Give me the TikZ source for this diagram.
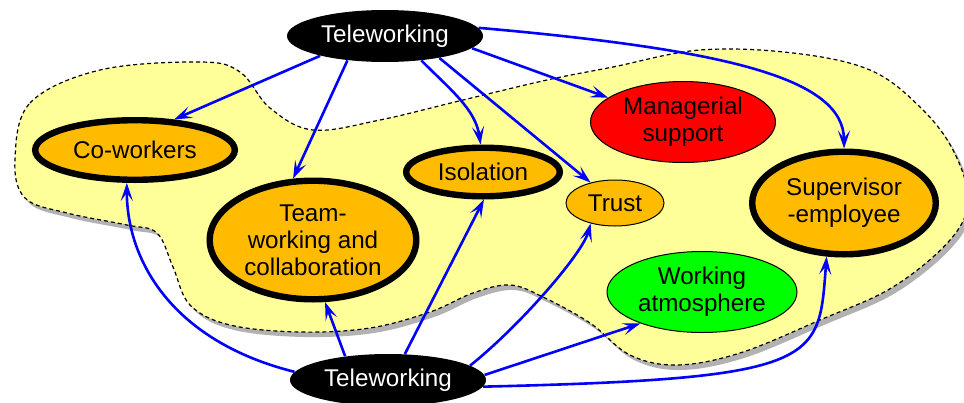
\documentclass[tikz,border=0pt]{standalone}
\usepackage{fontspec}
\setmainfont{Liberation Sans}
\usetikzlibrary{arrows.meta, shapes.geometric, shadows}
\definecolor{blobYellow}{HTML}{FFFF99}
\definecolor{nodeOrange}{HTML}{FFBB00}
\definecolor{nodeRed}{HTML}{FF0000}
\definecolor{nodeGreen}{HTML}{00FF00}
\definecolor{linkBlue}{HTML}{0000FF}
\tikzset{
  arrowB/.style={-{Stealth[length=9pt, width=6pt, inset=4pt]}, linkBlue, line width=1.3pt},
  ellBase/.style={ellipse, inner sep=0pt, align=center,
                  font=\fontsize{12.1}{13.6}\selectfont},
  ellBlack/.style={ellBase, fill=black, text=white,
                   minimum width=98pt, minimum height=26pt},
  ellThick/.style={ellBase, draw=black, fill=nodeOrange, line width=3.2pt},
  ellOrange/.style={ellBase, draw=black, fill=nodeOrange, line width=0.5pt},
  ellRed/.style={ellBase, draw=black, fill=nodeRed, line width=0.5pt},
  ellGreen/.style={ellBase, draw=black, fill=nodeGreen, line width=0.5pt},
}
\begin{document}
\begin{tikzpicture}[x=0.5pt, y=-0.5pt]
  \useasboundingbox (0,0) rectangle (964,402);
  % the yellow region
  \path[fill=blobYellow, draw=black, dash pattern=on 2pt off 1.5pt, line width=0.6pt,
        drop shadow={shadow xshift=2pt, shadow yshift=-2.5pt, opacity=0.3, fill=black}]
    plot[smooth cycle, tension=0.6] coordinates {
      (15,160) (30,103) (100,70) (200,62) (240,72) (270,108) (313,130)
      (380,120) (463,100) (547,80) (613,67) (700,50) (793,53) (870,70)
      (920,107) (953,150) (968,200) (950,240) (893,287) (820,320) (740,353)
      (677,365) (630,355) (590,323) (543,297) (510,285) (473,293) (430,312)
      (370,328) (300,332) (230,325) (190,305) (173,267) (157,233) (127,225)
      (67,213) (25,198)};
  \node[ellBlack] (tw1) at (385,36) {Teleworking};
  \node[ellBlack] (tw2) at (388,380) {Teleworking};
  \node[ellThick, minimum width=99.8pt, minimum height=29.8pt] (cow) at (135,150) {Co-workers};
  \node[ellThick, minimum width=103.3pt, minimum height=59.3pt] (team) at (313,240) {Team-\\working and\\collaboration};
  \node[ellThick, minimum width=76.8pt, minimum height=24.3pt] (iso) at (483,172) {Isolation};
  \node[ellOrange, minimum width=49pt, minimum height=23pt] (trust) at (615,203) {Trust};
  \node[ellRed, minimum width=92.5pt, minimum height=40.5pt] (mgr) at (683,122) {Managerial\\support};
  \node[ellThick, minimum width=91.8pt, minimum height=51.3pt] (sup) at (844,203) {Supervisor\\-employee};
  \node[ellGreen, minimum width=95pt, minimum height=40.5pt] (atm) at (702,292) {Working\\atmosphere};
  % from the upper Teleworking
  \draw[arrowB] (tw1.197) -- (cow.38);
  \draw[arrowB] (tw1.213) -- (team.108);
  \draw[arrowB] (tw1.326) .. controls +(30,30) and +(-5,-35) .. (iso.95);
  \draw[arrowB] (tw1.338) -- (trust.140);
  \draw[arrowB] (tw1.352) -- (mgr.162);
  \draw[arrowB] (tw1.5) .. controls +(250,22) and +(0,-70) .. (sup.north);
  % from the lower Teleworking
  \draw[arrowB] (tw2.175) .. controls +(-120,-30) and +(0,80) .. (cow.256);
  \draw[arrowB] (tw2.151) -- (team.281);
  \draw[arrowB] (tw2.57) -- (iso.272);
  \draw[arrowB] (tw2.10) .. controls +(50,-40) and +(-8,30) .. (trust.220);
  \draw[arrowB] (tw2.3) -- (atm.207);
  \draw[arrowB] (tw2.356) .. controls +(340,-8) and +(-8,105) .. (sup.252);
\end{tikzpicture}
\end{document}
